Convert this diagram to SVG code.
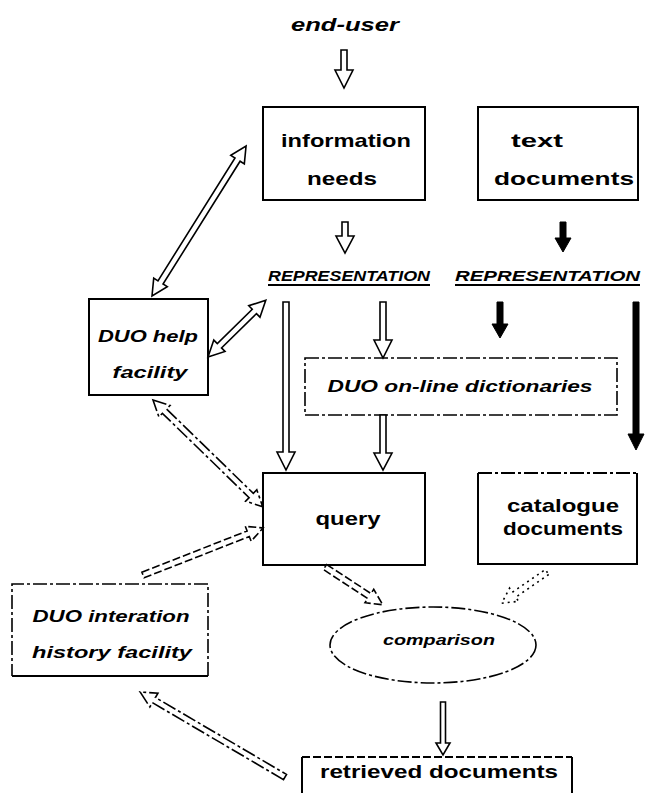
<svg xmlns="http://www.w3.org/2000/svg" width="648" height="795" viewBox="0 0 648 795">
<style>
.box{fill:none;stroke:#000;stroke-width:2}
.dd{stroke-dasharray:14 3 3 3}
.ds{stroke-dasharray:8 3}
.dt{stroke-dasharray:2 4}
.ha{fill:#fff;stroke:#000;stroke-width:1.6;stroke-linejoin:miter}
.sa{fill:#000;stroke:#000;stroke-width:1}
text{font-family:"Liberation Sans",Arial,Helvetica,sans-serif;font-weight:bold;fill:#000}
.b{font-size:19px}
.i{font-style:italic;font-size:17px}
.r{font-style:italic;font-size:15px}
.ul{stroke:#000;stroke-width:1.8}
</style>

<g id="end-user"><text class="b" style="font-style:italic" x="345" y="31" text-anchor="middle" textLength="108" lengthAdjust="spacingAndGlyphs">end-user</text></g>

<g id="information-needs">
<rect class="box" x="263" y="107" width="162" height="93"/>
<text class="b" x="346" y="147" text-anchor="middle" textLength="130" lengthAdjust="spacingAndGlyphs">information</text>
<text class="b" x="342" y="185" text-anchor="middle" textLength="70" lengthAdjust="spacingAndGlyphs">needs</text>
</g>

<g id="text-documents">
<rect class="box" x="478" y="107" width="160" height="93"/>
<text class="b" x="537" y="147" text-anchor="middle" textLength="52" lengthAdjust="spacingAndGlyphs">text</text>
<text class="b" x="564" y="185" text-anchor="middle" textLength="140" lengthAdjust="spacingAndGlyphs">documents</text>
</g>

<g id="representation-left">
<text class="r" x="268" y="281" textLength="162" lengthAdjust="spacingAndGlyphs">REPRESENTATION</text>
<line class="ul" x1="268" y1="285" x2="430" y2="285"/>
</g>

<g id="representation-right">
<text class="r" x="455" y="281" textLength="185" lengthAdjust="spacingAndGlyphs">REPRESENTATION</text>
<line class="ul" x1="455" y1="285" x2="640" y2="285"/>
</g>

<g id="help-facility">
<rect class="box" x="89" y="299" width="119" height="96"/>
<text class="i" x="148" y="342" text-anchor="middle" textLength="100" lengthAdjust="spacingAndGlyphs">DUO help</text>
<text class="i" x="150" y="378" text-anchor="middle" textLength="75" lengthAdjust="spacingAndGlyphs">facility</text>
</g>

<g id="online-dictionaries">
<rect class="box dd" x="305" y="358" width="312" height="57" style="stroke-width:1.6"/>
<text class="i" x="460" y="392" text-anchor="middle" textLength="265" lengthAdjust="spacingAndGlyphs">DUO on-line dictionaries</text>
</g>

<g id="query">
<rect class="box" x="263" y="473" width="162" height="92"/>
<text class="b" x="348" y="525" text-anchor="middle" textLength="65" lengthAdjust="spacingAndGlyphs">query</text>
</g>

<g id="catalogue-documents">
<path class="box" d="M478,473 L478,564 L637,564 L637,473"/>
<line class="box dd" x1="478" y1="473" x2="637" y2="473"/>
<text class="b" x="563" y="512" text-anchor="middle" textLength="112" lengthAdjust="spacingAndGlyphs">catalogue</text>
<text class="b" x="563" y="535" text-anchor="middle" textLength="120" lengthAdjust="spacingAndGlyphs">documents</text>
</g>

<g id="interaction-history">
<path class="box dd" d="M208,676 L208,584 L12,584 L12,676" style="stroke-width:1.6"/>
<line class="box" x1="12" y1="676" x2="208" y2="676"/>
<text class="i" x="111" y="622" text-anchor="middle" textLength="157" lengthAdjust="spacingAndGlyphs">DUO interation</text>
<text class="i" x="112" y="658" text-anchor="middle" textLength="160" lengthAdjust="spacingAndGlyphs">history facility</text>
</g>

<g id="comparison">
<ellipse class="box dd" cx="433" cy="645" rx="103" ry="38" style="stroke-width:1.6"/>
<text class="r" x="439" y="645" text-anchor="middle" textLength="112" lengthAdjust="spacingAndGlyphs">comparison</text>
</g>

<g id="retrieved-documents">
<path class="box" d="M302,793 L302,757 M572,757 L572,793"/>
<line class="box ds" x1="302" y1="757" x2="572" y2="757"/>
<text class="b" x="439" y="778" text-anchor="middle" textLength="238" lengthAdjust="spacingAndGlyphs">retrieved documents</text>
</g>

<g id="connectors">
<!-- end-user to information needs -->
<path class="ha" d="M341,50 L341,70 L335,70 L344,88 L353,70 L347,70 L347,50 Z"/>
<!-- information needs to representation -->
<path class="ha" d="M342,222 L342,236 L336,236 L345,253 L354,236 L348,236 L348,222 Z"/>
<!-- text documents to representation -->
<path class="sa" d="M560,222 L560,238 L555,238 L563,252 L571,238 L566,238 L566,222 Z"/>
<!-- representation to query -->
<path class="ha" d="M283,302 L283,452 L277,452 L286,470 L295,452 L289,452 L289,302 Z"/>
<!-- representation to dictionaries -->
<path class="ha" d="M380,302 L380,340 L374,340 L383,358 L392,340 L386,340 L386,302 Z"/>
<!-- dictionaries to query -->
<path class="ha" d="M380,415 L380,453 L374,453 L383,470 L392,453 L386,453 L386,415 Z"/>
<!-- representation (docs) to dictionaries -->
<path class="sa" d="M497,302 L497,324 L492,324 L500,338 L508,324 L503,324 L503,302 Z"/>
<!-- representation (docs) to catalogue -->
<path class="sa" d="M633,302 L633,434 L628,434 L636,450 L644,434 L639,434 L639,302 Z"/>
<!-- help <-> information needs -->
<path class="ha" transform="translate(152,296) rotate(-57.9)" d="M0,0 L16,-8 L16,-3 L161,-3 L161,-8 L177,0 L161,8 L161,3 L16,3 L16,8 Z"/>
<!-- help <-> representation -->
<path class="ha" transform="translate(208,357) rotate(-44.5)" d="M0,0 L16,-8 L16,-3 L65,-3 L65,-8 L81,0 L65,8 L65,3 L16,3 L16,8 Z"/>
<!-- help <-> query -->
<path class="ha dd" transform="translate(153,400) rotate(44.2)" d="M0,0 L16,-8 L16,-3 L137,-3 L137,-8 L153,0 L137,8 L137,3 L16,3 L16,8 Z"/>
<!-- interaction history to query -->
<path class="ha ds" transform="translate(143,575) rotate(-21.4)" d="M0,-3 L113,-3 L113,-8 L129,0 L113,8 L113,3 L0,3 Z"/>
<!-- query to comparison -->
<path class="ha ds" transform="translate(325,567) rotate(33.2)" d="M0,-3 L53,-3 L53,-8 L69,0 L53,8 L53,3 L0,3 Z"/>
<!-- catalogue to comparison -->
<path class="ha dt" transform="translate(547,572) rotate(145.4)" d="M0,-3 L40,-3 L40,-8 L55,0 L40,8 L40,3 L0,3 Z"/>
<!-- comparison to retrieved documents -->
<path class="ha" d="M440.5,702 L440.5,743 L436,743 L443,755 L450,743 L445.5,743 L445.5,702 Z"/>
<!-- retrieved documents to interaction history -->
<path class="ha dd" transform="translate(285,777) rotate(-149.6)" d="M0,-3 L152,-3 L152,-8 L168,0 L152,8 L152,3 L0,3 Z"/>
</g>
</svg>
